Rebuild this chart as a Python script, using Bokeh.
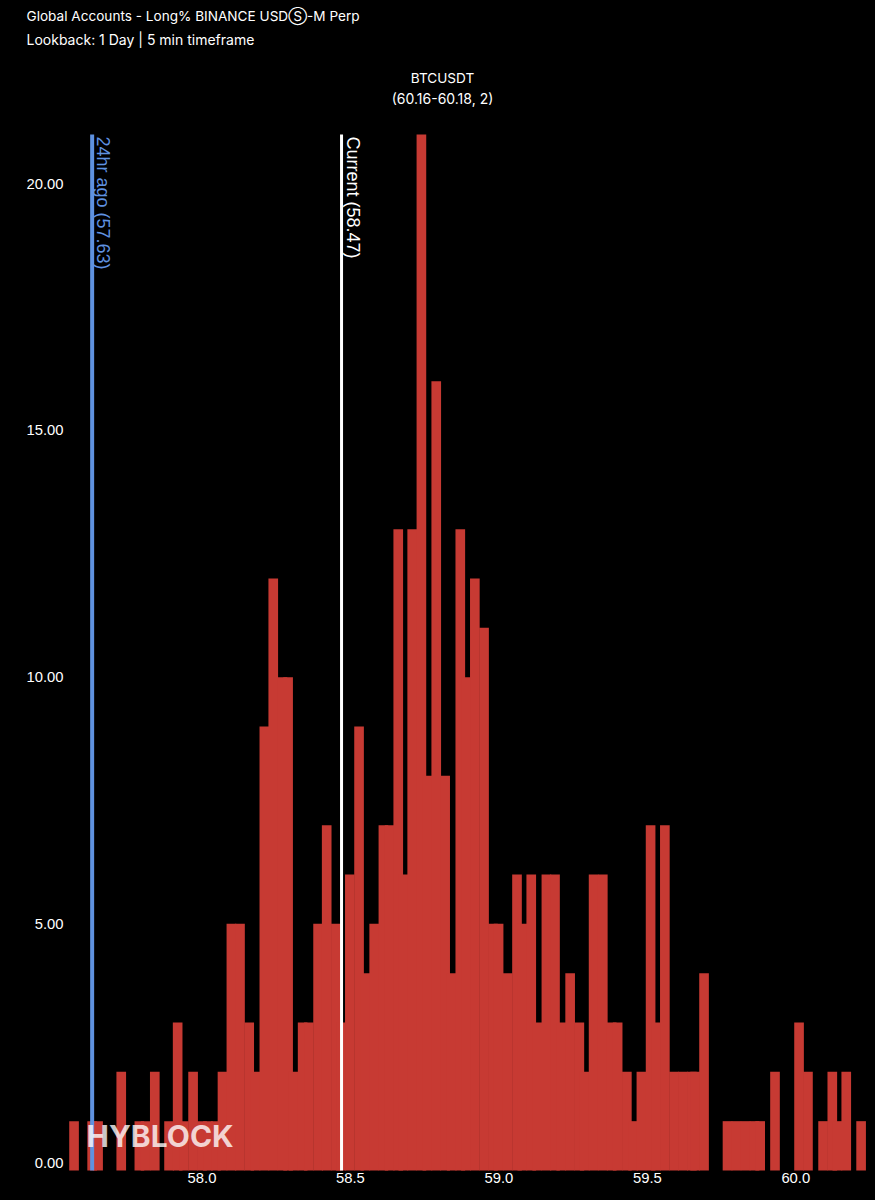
from math import pi
from bokeh.embed import file_html
from bokeh.models import ColumnDataSource, FixedTicker, Label, NumeralTickFormatter, Range1d
from bokeh.plotting import figure
from bokeh.resources import INLINE

title_line = "Global Accounts - Long% BINANCE USDⓈ-M Perp"
subtitle_line = "Lookback: 1 Day | 5 min timeframe"
hover_symbol = "BTCUSDT"
hover_detail = "(60.16-60.18, 2)"
watermark = "HYBLOCK"

current_value = 58.47
ago_value = 57.63
current_label = "Current (58.47)"
ago_label = "24hr ago (57.63)"
marker_top = 21

x_ticks = [58.0, 58.5, 59.0, 59.5, 60.0]
y_ticks = [5, 10, 15, 20]
zero_label = "0.00"

bin_centers = [
    57.569, 57.630, 57.650, 57.728, 57.789, 57.810, 57.841, 57.889, 57.918, 57.939,
    57.970, 58.000, 58.020, 58.047, 58.069, 58.099, 58.128, 58.159, 58.180, 58.210,
    58.240, 58.271, 58.290, 58.308, 58.339, 58.360, 58.391, 58.420, 58.451, 58.468,
    58.498, 58.529, 58.550, 58.580, 58.611, 58.632, 58.661, 58.678, 58.708, 58.739,
    58.759, 58.789, 58.819, 58.841, 58.870, 58.889, 58.919, 58.950, 58.980, 58.999,
    59.030, 59.061, 59.079, 59.109, 59.129, 59.160, 59.189, 59.210, 59.240, 59.271,
    59.289, 59.319, 59.350, 59.380, 59.400, 59.431, 59.452, 59.480, 59.511, 59.529,
    59.559, 59.590, 59.620, 59.650, 59.661, 59.691, 59.770, 59.800, 59.831, 59.861,
    59.880, 59.930, 60.011, 60.041, 60.092, 60.123, 60.140, 60.170, 60.220,
]
bin_counts = [
    1, 1, 1, 2, 1, 1, 2, 1, 3, 1,
    2, 1, 1, 1, 2, 5, 5, 3, 2, 9,
    12, 10, 10, 2, 3, 3, 5, 7, 5, 3,
    6, 9, 4, 5, 7, 7, 13, 6, 13, 21,
    8, 16, 8, 4, 13, 10, 12, 11, 5, 5,
    4, 6, 5, 6, 3, 6, 6, 3, 4, 3,
    2, 6, 6, 3, 3, 2, 1, 2, 7, 3,
    7, 2, 2, 2, 2, 4, 1, 1, 1, 1,
    1, 2, 3, 2, 1, 2, 1, 2, 1,
]
bin_width = 0.0325

BG = "#000000"
BAR = "#c73a33"
BLUE = "#5f92e0"
WHITE = "#ffffff"
TEXT_FONT = "Inter"
AXIS_FONT = "Liberation Sans"

W, H = 875, 1200
X_START, X_END, Y_START, Y_END = 57.3213, 60.2685, -0.608, 23.716
Y_AXIS_AT = 57.547

p = figure(
    title=None, width=W, height=H, output_backend="svg", toolbar_location=None,
    x_range=Range1d(X_START, X_END), y_range=Range1d(Y_START, Y_END),
    min_border_left=0, min_border_right=0, min_border_top=0, min_border_bottom=0,
    background_fill_color=BG, border_fill_color=BG, outline_line_color=None,
)
p.grid.visible = False

source = ColumnDataSource(dict(x=bin_centers, top=bin_counts))
p.vbar(x="x", top="top", bottom=0, width=bin_width, source=source, fill_color=BAR, line_color=None)

p.segment(x0=[ago_value], y0=[0], x1=[ago_value], y1=[marker_top], line_color=BLUE, line_width=4)
p.segment(x0=[current_value], y0=[0], x1=[current_value], y1=[marker_top], line_color=WHITE, line_width=3)

for ax, ticks in ((p.xaxis[0], x_ticks), (p.yaxis[0], y_ticks)):
    ax.ticker = FixedTicker(ticks=ticks)
    ax.axis_line_color = None
    ax.major_tick_line_color = None
    ax.minor_tick_line_color = None
    ax.major_tick_out = 0
    ax.major_tick_in = 0
    ax.minor_tick_out = 0
    ax.major_label_text_color = WHITE
    ax.major_label_text_font = AXIS_FONT
    ax.major_label_text_font_size = "14.8px"
p.xaxis[0].formatter = NumeralTickFormatter(format="0.0")
p.yaxis[0].formatter = NumeralTickFormatter(format="0.00")
p.xaxis[0].fixed_location = 0
p.yaxis[0].fixed_location = Y_AXIS_AT
p.xaxis[0].major_label_standoff = 2
p.yaxis[0].major_label_standoff = 4

p.add_layout(Label(x=Y_AXIS_AT, y=0, x_offset=-4, y_offset=8, text=zero_label,
                   text_align="right", text_baseline="middle", text_color=WHITE,
                   text_font=AXIS_FONT, text_font_size="14.8px"))


def vlabel(value, text, color):
    p.add_layout(Label(x=value, y=marker_top, x_offset=1, y_offset=-2, text=text, angle=-pi / 2,
                       text_align="left", text_baseline="bottom", text_color=color,
                       text_font=AXIS_FONT, text_font_size="18px"))


vlabel(ago_value, ago_label, BLUE)
vlabel(current_value, current_label, WHITE)


def screen_label(px, py, text, align="left", size="14px", **kw):
    p.add_layout(Label(x=px, x_units="screen", y=H - py, y_units="screen", text=text,
                       text_align=align, text_baseline="middle", text_color=WHITE,
                       text_font=TEXT_FONT, text_font_size=size, **kw))


screen_label(26, 15, title_line, size="13.6px")
screen_label(26, 39, subtitle_line)
screen_label(442, 77, hover_symbol, align="center", size="13.6px")
screen_label(442, 98, hover_detail, align="center")
screen_label(86, 1135, watermark, size="30px", text_alpha=0.78, text_font_style="bold")

open("out.html", "w").write(
    file_html(p, INLINE).replace("</head>", "<style>html,body{background:#000}</style></head>", 1)
)
